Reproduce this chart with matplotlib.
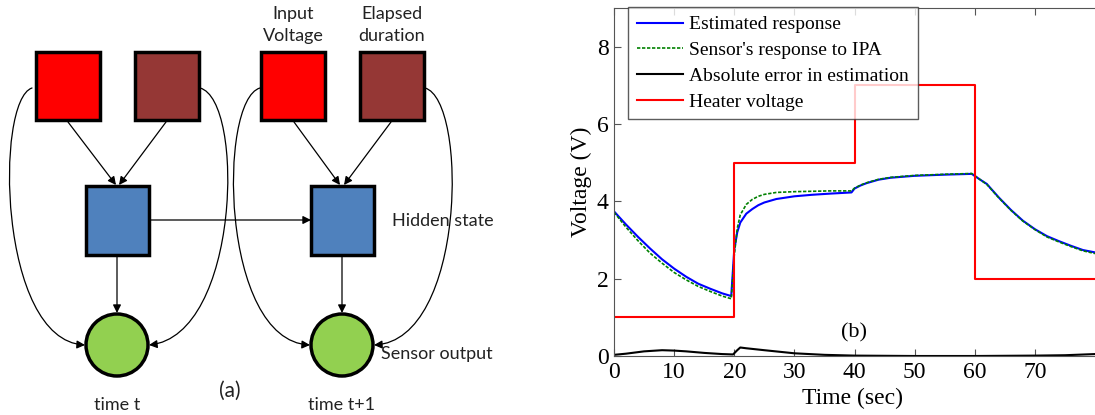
import matplotlib
matplotlib.use('Agg')
import matplotlib.pyplot as plt
from matplotlib.patches import Rectangle, Circle, FancyArrowPatch
from matplotlib.path import Path

# ---- data for panel (b) ----
heater_t = [0, 20, 40, 60, 80]
heater_v = [1, 5, 7, 2, 2]

est_t = [0, 2, 4, 6, 8, 10, 12, 14, 16, 18, 19.5, 20, 20.5, 21, 22, 23, 24, 25,
         27, 30, 33, 36, 39.5, 40, 41, 42, 44, 46, 50, 55, 59.5, 61, 62, 64,
         66, 68, 70, 72, 74, 76, 78, 80]
est_v = [3.74, 3.40, 3.08, 2.78, 2.50, 2.26, 2.05, 1.87, 1.74, 1.62, 1.55, 2.75,
         3.20, 3.45, 3.68, 3.80, 3.90, 3.97, 4.06, 4.13, 4.17, 4.20, 4.23, 4.33,
         4.41, 4.47, 4.56, 4.61, 4.66, 4.69, 4.71, 4.55, 4.45, 4.10, 3.78, 3.50,
         3.28, 3.10, 2.97, 2.85, 2.74, 2.68]

ipa_t = [0, 2, 4, 6, 8, 10, 12, 14, 16, 18, 19.5, 20, 20.5, 21, 22, 23, 24, 25,
         27, 30, 33, 36, 39.5, 40, 41, 42, 44, 46, 50, 55, 59.5, 61, 62, 64,
         66, 68, 70, 72, 74, 76, 78, 80]
ipa_v = [3.72, 3.33, 2.98, 2.66, 2.40, 2.16, 1.97, 1.80, 1.67, 1.55, 1.48, 2.60,
         3.30, 3.65, 3.92, 4.05, 4.13, 4.18, 4.23, 4.25, 4.26, 4.27, 4.27, 4.34,
         4.42, 4.48, 4.57, 4.62, 4.67, 4.70, 4.72, 4.55, 4.44, 4.09, 3.77, 3.49,
         3.27, 3.08, 2.95, 2.83, 2.72, 2.65]

err_t = [0, 2, 5, 8, 10, 12, 15, 18, 19.8, 20.5, 21, 22, 25, 30, 35, 40, 50, 60,
         70, 75, 80]
err_v = [0.03, 0.06, 0.12, 0.15, 0.14, 0.12, 0.08, 0.05, 0.04, 0.15, 0.22, 0.20,
         0.15, 0.07, 0.03, 0.01, 0.0, 0.0, 0.01, 0.02, 0.05]

x_ticks = [0, 10, 20, 30, 40, 50, 60, 70]
y_ticks = [0, 2, 4, 6, 8]

# ---- diagram nodes for panel (a), pixel coords ----
squares = [  # x0, y0, w, h, colour
    (36, 52, 64, 68, '#FF0000'),
    (135, 52, 64, 68, '#953735'),
    (261, 52, 64, 68, '#FF0000'),
    (360, 52, 64, 68, '#953735'),
    (86, 186, 63, 69, '#4F81BD'),
    (311, 186, 63, 69, '#4F81BD'),
]
circles = [(117, 345), (342, 345)]

straight_arrows = [
    ((68, 122), (116, 185)),
    ((166, 122), (119, 185)),
    ((294, 122), (340, 185)),
    ((391, 122), (344, 185)),
    ((149, 220), (311, 220)),
    ((117, 255), (117, 313)),
    ((342, 255), (342, 313)),
]
curved_arrows = [
    [(32, 88), (-5, 100), (-2, 340), (85, 345)],
    [(200, 88), (245, 100), (240, 335), (149, 345)],
    [(260, 88), (218, 100), (220, 340), (310, 345)],
    [(425, 88), (468, 100), (466, 340), (374, 345)],
]

fig = plt.figure(figsize=(10.95, 4.15), dpi=100)

# ---------- panel (a) ----------
ax0 = fig.add_axes([0, 0, 560 / 1095, 1])
ax0.set_xlim(0, 560)
ax0.set_ylim(415, 0)
ax0.axis('off')

for x0, y0, w, h, c in squares:
    ax0.add_patch(Rectangle((x0, y0), w, h, facecolor=c, edgecolor='black',
                            linewidth=2.5, zorder=3))
for cx, cy in circles:
    ax0.add_patch(Circle((cx, cy), 31, facecolor='#92D050', edgecolor='black',
                         linewidth=2.5, zorder=3))

for p0, p1 in straight_arrows:
    ax0.add_patch(FancyArrowPatch(p0, p1, arrowstyle='-|>', mutation_scale=12,
                                  color='black', linewidth=0.9, shrinkA=0,
                                  shrinkB=0, zorder=2))
for pts in curved_arrows:
    path = Path(pts, [Path.MOVETO, Path.CURVE4, Path.CURVE4, Path.CURVE4])
    ax0.add_patch(FancyArrowPatch(path=path, arrowstyle='-|>', mutation_scale=12,
                                  color='black', linewidth=0.9, zorder=2))

dfont = dict(family='Lato', fontsize=13, color='#222222', ha='center', va='center')
ax0.text(293, 14, 'Input', **dfont)
ax0.text(293, 36, 'Voltage', **dfont)
ax0.text(392, 14, 'Elapsed', **dfont)
ax0.text(392, 36, 'duration', **dfont)
ax0.text(443, 221, 'Hidden state', **dfont)
ax0.text(437, 354, 'Sensor output', **dfont)
ax0.text(230, 391, '(a)', family='Lato', fontsize=15, color='#222222',
         ha='center', va='center')
ax0.text(117, 405, 'time t', **dfont)
ax0.text(342, 405, 'time t+1', **dfont)

# ---------- panel (b) ----------
serif = 'Liberation Serif'
ax = fig.add_axes([614 / 1095, 59 / 415, 1 - 614 / 1095, 348 / 415])
ax.plot(est_t, est_v, color='#0000FF', linewidth=1.5, label='Estimated response')
ax.plot(ipa_t, ipa_v, color='#008000', linewidth=1.2, linestyle=(0, (2, 1)),
        label="Sensor's response to IPA")
ax.plot(err_t, err_v, color='black', linewidth=1.5,
        label='Absolute error in estimation')
ax.step(heater_t, heater_v, where='post', color='#FF0000', linewidth=1.5,
        label='Heater voltage')

ax.set_xlim(0, 80)
ax.set_ylim(0, 9)
ax.set_xticks(x_ticks)
ax.set_yticks(y_ticks)
ax.tick_params(direction='in', length=5, top=True, labelsize=17, pad=4,
               color='#555555')
for lab in ax.get_xticklabels() + ax.get_yticklabels():
    lab.set_family(serif)
ax.spines['right'].set_visible(False)
for s in ['left', 'top', 'bottom']:
    ax.spines[s].set_color('#555555')

ax.set_xlabel('Time (sec)', family=serif, fontsize=17)
ax.set_ylabel('Voltage (V)', family=serif, fontsize=17)
ax.xaxis.set_label_coords(0.495, -0.093)
ax.yaxis.set_label_coords(-0.046, 0.5)

ax.text(40, 0.59, '(b)', family=serif, fontsize=16, ha='center', va='center')

leg = ax.legend(loc='upper left', bbox_to_anchor=(0.029, 1.003), frameon=True,
                fancybox=False, prop={'family': serif, 'size': 14},
                handlelength=2.4, handletextpad=0.3, labelspacing=0.42,
                borderpad=0.45, borderaxespad=0.0)
leg.get_frame().set_edgecolor('#333333')
leg.get_frame().set_linewidth(1.0)

fig.savefig('out.png', dpi=100)
